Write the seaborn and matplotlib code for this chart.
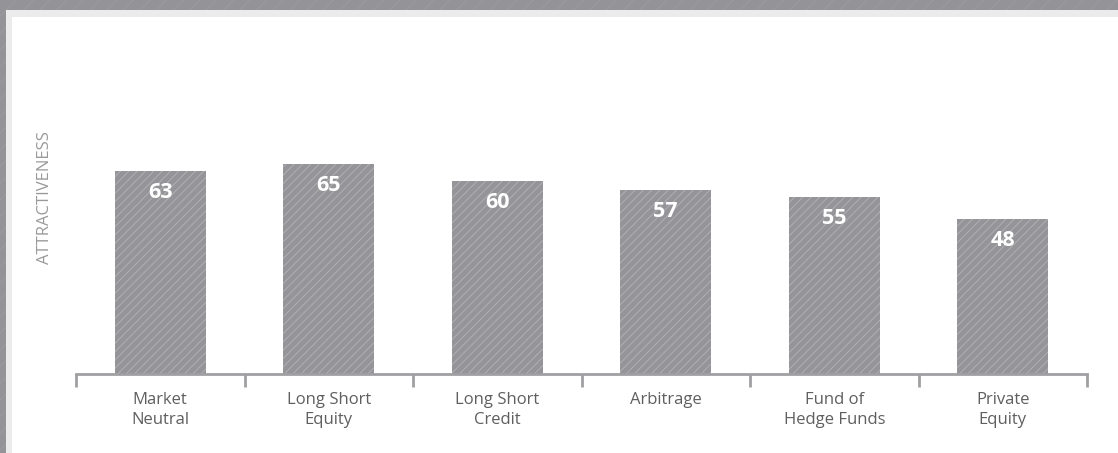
import matplotlib
matplotlib.use('Agg')
import matplotlib.pyplot as plt
import matplotlib.patches as mpatches
import seaborn as sns
import pandas as pd

categories = ['Market\nNeutral', 'Long Short\nEquity', 'Long Short\nCredit',
              'Arbitrage', 'Fund of\nHedge Funds', 'Private\nEquity']
attractiveness = [63, 65, 60, 57, 55, 48]

df = pd.DataFrame({'strategy': categories, 'score': attractiveness})

sns.set_style('white')
plt.rcParams['font.family'] = ['Open Sans', 'DejaVu Sans']
plt.rcParams['hatch.linewidth'] = 0.6

W, H = 1118, 453
fig = plt.figure(figsize=(W / 100, H / 100), dpi=100)
fig.patch.set_facecolor('#939398')

# striped outer frame
fig.patches.append(mpatches.Rectangle((0, 0), 1, 1, transform=fig.transFigure,
                                      facecolor='#939398', edgecolor='#9c9ca1',
                                      hatch='//', lw=0, zorder=-3))
# light grey inner border and white panel
fig.patches.append(mpatches.Rectangle((6 / W, 0), 1, 1 - 10 / H, transform=fig.transFigure,
                                      facecolor='#ebebeb', lw=0, zorder=-2))
fig.patches.append(mpatches.Rectangle((12 / W, 0), 1, 1 - 17 / H, transform=fig.transFigure,
                                      facecolor='white', lw=0, zorder=-1))

ax = fig.add_axes([76 / W, 1 - 374 / H, (1087 - 76) / W, (374 - 51.5) / H])
ax.set_facecolor('none')

sns.barplot(data=df, x='strategy', y='score', color='#959599', width=0.54,
            saturation=1, ax=ax)
for p in ax.patches:
    p.set_hatch('////')
    p.set_edgecolor('#b4b4b7')
    p.set_linewidth(0)

for i, v in enumerate(attractiveness):
    ax.annotate(str(v), (i, v), xytext=(0, -19.5), textcoords='offset points',
                ha='center', va='baseline', color='white', fontsize=15.5, fontweight='bold')

ax.set_xlim(-0.5, len(categories) - 0.5)
ax.set_ylim(0, 100)
ax.set_yticks([])
ax.set_xlabel('')
ax.set_ylabel('ATTRACTIVENESS', color='#9a9a9a', fontsize=12)
ax.yaxis.set_label_coords(-0.023, 0.546)

for s in ['top', 'right', 'left']:
    ax.spines[s].set_visible(False)
ax.spines['bottom'].set_color('#a0a0a3')
ax.spines['bottom'].set_linewidth(2)

ax.set_xticks([i - 0.5 for i in range(len(categories) + 1)], minor=True)
ax.tick_params(axis='x', which='minor', length=9, width=2, color='#a0a0a3', bottom=True)
ax.tick_params(axis='x', which='major', length=0, pad=13, labelsize=12, labelcolor='#5f5f5f')
for t in ax.get_xticklabels():
    t.set_linespacing(1.35)

fig.savefig('out.png', dpi=100, facecolor=fig.get_facecolor())
